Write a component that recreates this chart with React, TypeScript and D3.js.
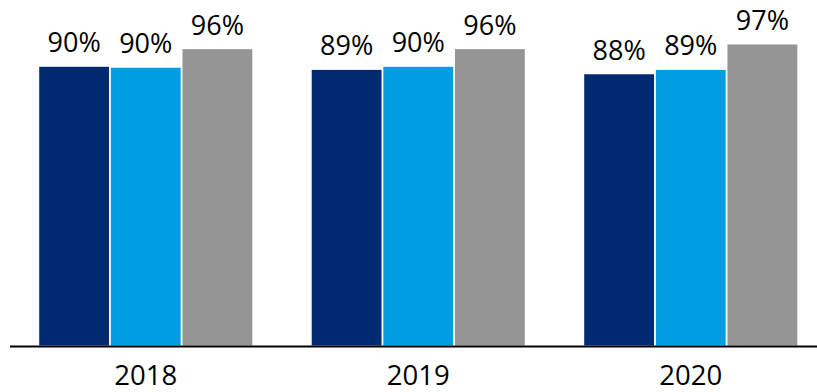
import React from "react";
import * as d3 from "d3";

const years = ["2018", "2019", "2020"];
const seriesNames = ["A", "B", "C"];
const seriesA = [89.9, 88.9, 87.5];
const seriesB = [89.6, 89.9, 88.9];
const seriesC = [95.6, 95.6, 97.1];
const colors = ["#002A70", "#009EE0", "#959595"];

const W = 817;
const H = 392;

export default function App() {
  const series = [seriesA, seriesB, seriesC];
  const x0 = d3.scaleBand<string>().domain(years).range([9.5, 827]).paddingInner(0.218).paddingOuter(0.109);
  const x1 = d3.scaleBand<string>().domain(seriesNames).range([0, x0.bandwidth()]).paddingInner(0.025);
  const y = d3.scaleLinear().domain([0, 100]).range([345.5, 35.5]);
  const font = "'Open Sans', sans-serif";
  return (
    <svg width={W} height={H} style={{ position: "absolute", left: 0, top: 0, background: "#fff" }}>
      {years.map((yr, i) => (
        <g key={yr} transform={`translate(${x0(yr)},0)`}>
          {seriesNames.map((s, j) => {
            const v = series[j][i];
            const bx = x1(s)!;
            return (
              <g key={s}>
                <rect x={bx} y={y(v)} width={x1.bandwidth()} height={y(0) - y(v)} fill={colors[j]} />
                <text
                  x={bx + x1.bandwidth() / 2}
                  y={y(v) - 14.5}
                  textAnchor="middle"
                  fontFamily={font}
                  fontSize={27}
                  fill="#000"
                >
                  {d3.format(".0f")(v)}%
                </text>
              </g>
            );
          })}
          <text x={x0.bandwidth() / 2} y={384.5} textAnchor="middle" fontFamily={font} fontSize={27.5} fill="#000">
            {yr}
          </text>
        </g>
      ))}
      <line x1={10} x2={817} y1={346.5} y2={346.5} stroke="#000" strokeWidth={2} />
    </svg>
  );
}
